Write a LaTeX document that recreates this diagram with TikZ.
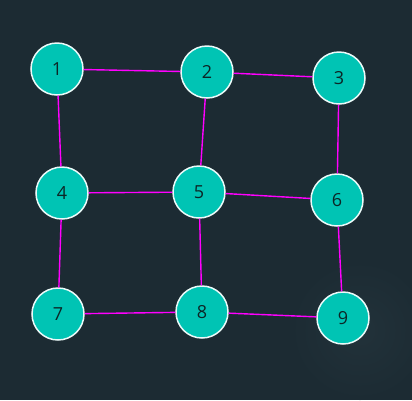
\documentclass[tikz,border=0pt]{standalone}
\usepackage{fontspec}
\setmainfont{Open Sans}
\definecolor{bg}{HTML}{1C2B33}
\definecolor{glow}{HTML}{22323A}
\definecolor{nodefill}{HTML}{00C4B4}
\definecolor{edge}{HTML}{FF00FF}
\definecolor{txt}{HTML}{0C2626}
\begin{document}
\begin{tikzpicture}[x=1pt,y=-1pt,
  vertex/.style={circle,draw=white!92!nodefill,line width=1.5pt,fill=nodefill,minimum size=52pt,inner sep=0pt,text=txt,font=\fontsize{18}{18}\selectfont},
  link/.style={draw=edge,line width=1.4pt}]
\fill[bg] (0,0) rectangle (412,400);
\useasboundingbox (0,0) rectangle (412,400);
\shade[inner color=glow,outer color=bg] (360,330) circle (70);
\node[vertex] (n1) at (57,69) {1};
\node[vertex] (n2) at (207,72) {2};
\node[vertex] (n3) at (339,78) {3};
\node[vertex] (n4) at (62,193) {4};
\node[vertex] (n5) at (199,192) {5};
\node[vertex] (n6) at (337,200) {6};
\node[vertex] (n7) at (58,314) {7};
\node[vertex] (n8) at (202,312) {8};
\node[vertex] (n9) at (343,318) {9};
\draw[link] (n1) -- (n2);
\draw[link] (n2) -- (n3);
\draw[link] (n1) -- (n4);
\draw[link] (n2) -- (n5);
\draw[link] (n3) -- (n6);
\draw[link] (n4) -- (n5);
\draw[link] (n5) -- (n6);
\draw[link] (n4) -- (n7);
\draw[link] (n5) -- (n8);
\draw[link] (n6) -- (n9);
\draw[link] (n7) -- (n8);
\draw[link] (n8) -- (n9);
\end{tikzpicture}
\end{document}
